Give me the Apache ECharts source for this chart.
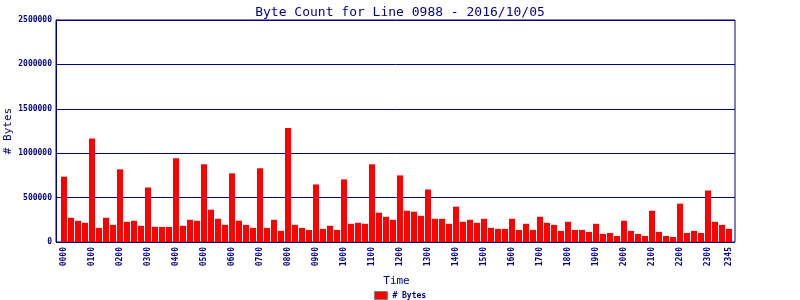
<!DOCTYPE html>
<html><head><meta charset="utf-8">
<script src="https://cdn.jsdelivr.net/npm/echarts@6/dist/echarts.min.js"></script>
<style>html,body{margin:0;padding:0;background:#fff}#c{width:800px;height:300px}</style>
</head><body><div id="c"></div>
<script>
const times = [];
for (let h = 0; h < 24; h++) for (let m = 0; m < 60; m += 15) times.push(String(h).padStart(2,'0') + String(m).padStart(2,'0'));
const bytes = [
 735000,273000,239000,216000, 1165000,159000,273000,193000,
 818000,227000,239000,182000, 614000,170000,170000,170000,
 943000,182000,250000,239000, 875000,364000,261000,193000,
 773000,239000,193000,159000, 830000,159000,250000,125000,
 1284000,193000,159000,136000, 648000,148000,182000,136000,
 705000,205000,216000,205000, 875000,330000,284000,250000,
 750000,352000,341000,295000, 591000,261000,261000,205000,
 398000,227000,250000,216000, 261000,159000,148000,148000,
 261000,136000,205000,136000, 284000,216000,193000,125000,
 227000,136000,136000,114000, 205000,91000,102000,68000,
 239000,125000,91000,68000, 352000,114000,68000,57000,
 432000,102000,125000,102000, 580000,227000,193000,148000
];
const yMax = 2500000, yStep = 500000;
const titleText = 'Byte Count for Line 0988 - 2016/10/05';
const seriesName = '# Bytes';
const navy = '#000080';
const font = 'DejaVu Sans Mono';
const chart = echarts.init(document.getElementById('c'), null, {renderer:'canvas'});
chart.setOption({
  animation: false,
  title: {text: titleText, left: 'center', top: 1, textStyle: {color: navy, fontFamily: font, fontSize: 13, fontWeight: 'normal'}},
  grid: [
    {left: 56, right: 65, top: 20, bottom: 58, containLabel: false, outerBoundsMode: 'none', show: true, borderColor: navy, borderWidth: 1},
    {left: 60.5, right: 67.5, top: 20, bottom: 58, containLabel: false, outerBoundsMode: 'none'}
  ],
  legend: {bottom: 0, left: 'center', padding: 0, itemWidth: 13, itemHeight: 8, itemGap: 4, icon: 'rect', data: [seriesName],
    textStyle: {color: navy, fontFamily: font, fontSize: 8, fontWeight: 'bold'},
    itemStyle: {borderColor: '#808080', borderWidth: 1}},
  xAxis: [
    {type: 'value', gridIndex: 0, min: 0, max: 1, show: false},
    {type: 'category', gridIndex: 1, data: times, name: 'Time', nameLocation: 'middle', nameGap: 34, nameMoveOverlap: false,
      nameTextStyle: {color: navy, fontFamily: font, fontSize: 11},
      axisLine: {show: false}, axisTick: {show: false},
      axisLabel: {rotate: 90, color: navy, fontFamily: font, fontSize: 8, fontWeight: 'bold', margin: 5,
        interval: (i) => i % 4 === 0 || i === times.length - 1}}
  ],
  yAxis: [
    {type: 'value', gridIndex: 0, min: 0, max: yMax, interval: yStep, name: '# Bytes', nameLocation: 'middle', nameGap: 42, nameMoveOverlap: false,
      nameTextStyle: {color: navy, fontFamily: font, fontSize: 11},
      axisLine: {show: true, lineStyle: {color: navy}}, axisTick: {show: false},
      splitLine: {lineStyle: {color: navy, width: 1}},
      axisLabel: {color: navy, fontFamily: font, fontSize: 8, fontWeight: 'bold', margin: 4, formatter: (v) => String(v)}},
    {type: 'value', gridIndex: 1, min: 0, max: yMax, interval: yStep, show: false}
  ],
  series: [{name: seriesName, type: 'bar', xAxisIndex: 1, yAxisIndex: 1, data: bytes, barWidth: 6, itemStyle: {color: '#ff0000'}}]
});
</script></body></html>
